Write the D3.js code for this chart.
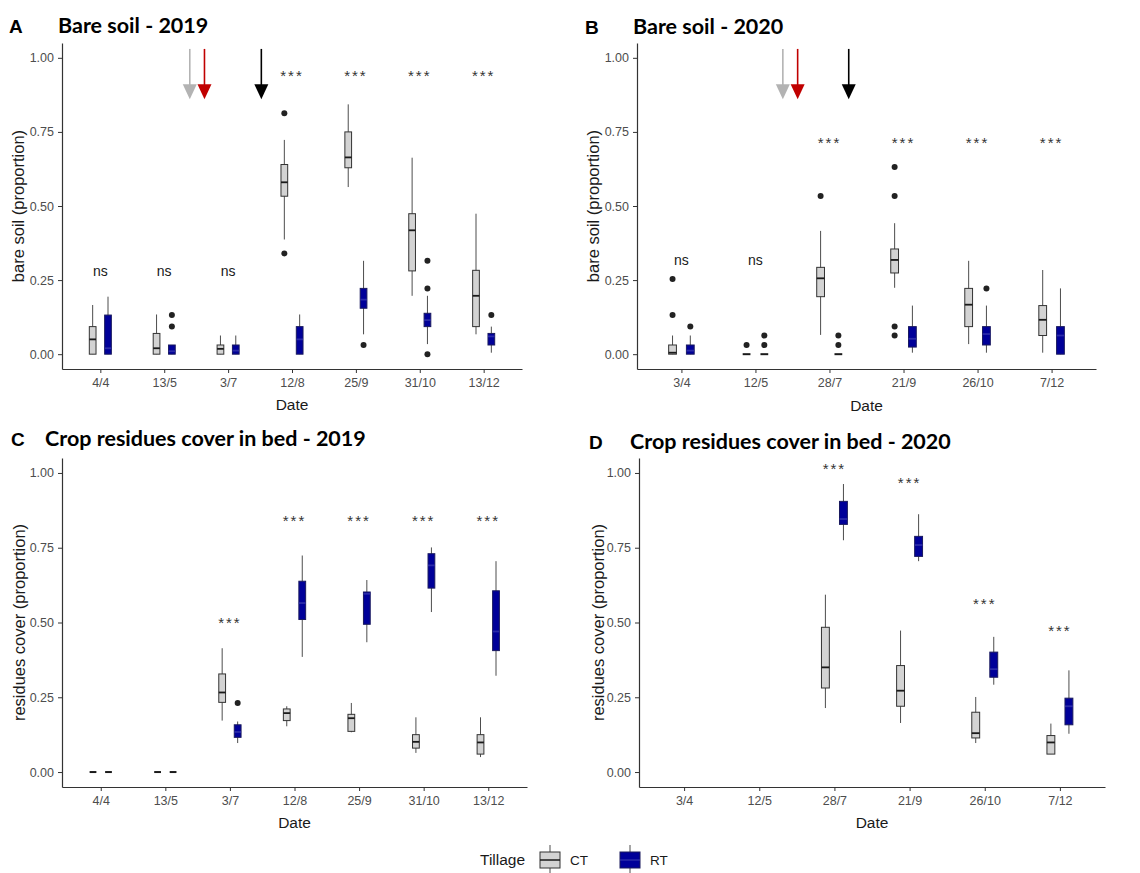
<!DOCTYPE html>
<html>
<head>
<meta charset="utf-8">
<script src="https://cdn.jsdelivr.net/npm/d3@7"></script>
<style>
  body { margin: 0; background: #fff; }
  text { font-family: "Liberation Sans", Arial, sans-serif; }
</style>
</head>
<body>
<svg id="fig" width="1140" height="873"></svg>
<script>
const tillage = ['CT', 'RT'];

const dates2019 = ['4/4', '13/5', '3/7', '12/8', '25/9', '31/10', '13/12'];
const dates2020 = ['3/4', '12/5', '28/7', '21/9', '26/10', '7/12'];

// box stats: [lower whisker, q1, median, q3, upper whisker]; null = no data
const bareCT2019 = [
  [0, 0, 0.05, 0.093, 0.166],
  [0, 0, 0.02, 0.07, 0.134],
  [0, 0, 0.018, 0.031, 0.063],
  [0.387, 0.533, 0.58, 0.64, 0.723],
  [0.564, 0.629, 0.664, 0.75, 0.843],
  [0.197, 0.281, 0.418, 0.474, 0.663],
  [0.067, 0.093, 0.197, 0.283, 0.474]
];
const bareRT2019 = [
  [0, 0, 0.02, 0.132, 0.194],
  [0, 0, 0.01, 0.031, 0.031],
  [0, 0, 0.012, 0.031, 0.063],
  [0, 0, 0.05, 0.093, 0.134],
  [0.067, 0.155, 0.184, 0.222, 0.315],
  [0.034, 0.093, 0.115, 0.138, 0.197],
  [0.005, 0.031, 0.06, 0.07, 0.093]
];
const bareCTOut2019 = [[], [], [], [0.813, 0.34], [], [], []];
const bareRTOut2019 = [[], [0.132, 0.093], [], [], [0.031], [0.315, 0.222, 0], [0.132]];

const bareCT2020 = [
  [0, 0, 0.005, 0.031, 0.063],
  [0, 0, 0, 0, 0],
  [0.065, 0.194, 0.256, 0.293, 0.416],
  [0.224, 0.274, 0.318, 0.355, 0.442],
  [0.034, 0.093, 0.167, 0.222, 0.315],
  [0.005, 0.063, 0.116, 0.164, 0.284]
];
const bareRT2020 = [
  [0, 0, 0.012, 0.031, 0.063],
  [0, 0, 0, 0, 0],
  [0, 0, 0, 0, 0],
  [0.005, 0.024, 0.052, 0.093, 0.164],
  [0.005, 0.031, 0.068, 0.093, 0.164],
  [0, 0, 0.063, 0.093, 0.222]
];
const bareCTOut2020 = [[0.254, 0.132], [0.031], [0.534], [0.632, 0.534, 0.093, 0.063], [], []];
const bareRTOut2020 = [[0.093], [0.063, 0.031], [0.063, 0.031], [], [0.222], []];

const resCT2019 = [
  [0, 0, 0, 0, 0],
  [0, 0, 0, 0, 0],
  [0.172, 0.233, 0.266, 0.328, 0.414],
  [0.153, 0.172, 0.197, 0.211, 0.22],
  [0.133, 0.136, 0.18, 0.193, 0.231],
  [0.064, 0.08, 0.101, 0.125, 0.183],
  [0.05, 0.06, 0.099, 0.125, 0.183]
];
const resRT2019 = [
  [0, 0, 0, 0, 0],
  [0, 0, 0, 0, 0],
  [0.097, 0.116, 0.134, 0.158, 0.169],
  [0.385, 0.51, 0.565, 0.638, 0.724],
  [0.434, 0.494, 0.596, 0.602, 0.642],
  [0.535, 0.615, 0.691, 0.73, 0.751],
  [0.322, 0.406, 0.47, 0.606, 0.705]
];
const resCTOut2019 = [[], [], [], [], [], [], []];
const resRTOut2019 = [[], [], [0.231], [], [], [], []];

const resCT2020 = [
  null, null,
  [0.214, 0.281, 0.35, 0.484, 0.593],
  [0.164, 0.22, 0.272, 0.356, 0.473],
  [0.097, 0.114, 0.13, 0.2, 0.251],
  [0.06, 0.06, 0.099, 0.122, 0.162]
];
const resRT2020 = [
  null, null,
  [0.775, 0.828, 0.846, 0.905, 0.963],
  [0.705, 0.721, 0.759, 0.788, 0.862],
  [0.292, 0.317, 0.344, 0.401, 0.452],
  [0.128, 0.158, 0.22, 0.247, 0.34]
];
const resCTOut2020 = [[], [], [], [], [], []];
const resRTOut2020 = [[], [], [], [], [], []];

// significance labels and their heights
const sigBare2019 = ['ns', 'ns', 'ns', '***', '***', '***', '***'];
const sigYBare2019 = [0.275, 0.275, 0.275, 0.934, 0.934, 0.934, 0.934];
const sigBare2020 = ['ns', 'ns', '***', '***', '***', '***'];
const sigYBare2020 = [0.312, 0.312, 0.708, 0.708, 0.708, 0.708];
const sigRes2019 = ['', '', '***', '***', '***', '***', '***'];
const sigYRes2019 = [0, 0, 0.496, 0.835, 0.835, 0.835, 0.835];
const sigRes2020 = ['', '', '***', '***', '***', '***'];
const sigYRes2020 = [0, 0, 1.011, 0.964, 0.56, 0.467];

// event arrows, position in category units (1 = first date)
const arrows2019 = [2.40, 2.63, 3.52];
const arrows2020 = [2.37, 2.57, 3.26];

const svg = d3.select('svg#fig');
const fills = {CT: '#d3d3d3', RT: '#000099'};
const strokes = {CT: '#333333', RT: '#1a1a5e'};
const medians = {CT: '#1a1a1a', RT: '#2b2ba8'};
const arrowCols = ['#b3b3b3', '#c00000', '#000000'];

const panels = [
  {letter: 'A', title: 'Bare soil - 2019', ytitle: 'bare soil (proportion)',
    dates: dates2019, ct: bareCT2019, rt: bareRT2019, ctOut: bareCTOut2019, rtOut: bareRTOut2019,
    sig: sigBare2019, sigY: sigYBare2019, arrows: arrows2019,
    left: 62, right: 522, top: 43, bottom: 369, letterX: 9, titleX: 58, titleY: 33, ytitleX: 20, xtitleY: 410},
  {letter: 'B', title: 'Bare soil - 2020', ytitle: 'bare soil (proportion)',
    dates: dates2020, ct: bareCT2020, rt: bareRT2020, ctOut: bareCTOut2020, rtOut: bareRTOut2020,
    sig: sigBare2020, sigY: sigYBare2020, arrows: arrows2020,
    left: 637, right: 1096, top: 43, bottom: 369, letterX: 585, titleX: 633, titleY: 34, ytitleX: 595, xtitleY: 411},
  {letter: 'C', title: 'Crop residues cover in bed - 2019', ytitle: 'residues cover (proportion)',
    dates: dates2019, ct: resCT2019, rt: resRT2019, ctOut: resCTOut2019, rtOut: resRTOut2019,
    sig: sigRes2019, sigY: sigYRes2019, arrows: [],
    left: 62, right: 527, top: 458, bottom: 787, letterX: 11, titleX: 45, titleY: 446, ytitleX: 21, xtitleY: 828},
  {letter: 'D', title: 'Crop residues cover in bed - 2020', ytitle: 'residues cover (proportion)',
    dates: dates2020, ct: resCT2020, rt: resRT2020, ctOut: resCTOut2020, rtOut: resRTOut2020,
    sig: sigRes2020, sigY: sigYRes2020, arrows: [],
    left: 639, right: 1105, top: 458, bottom: 787, letterX: 589, titleX: 630, titleY: 449, ytitleX: 600, xtitleY: 828}
];

function drawPanel(p) {
  const g = svg.append('g');
  const x = d3.scalePoint().domain(p.dates).range([p.left, p.right]).padding(0.6),
    y = d3.scaleLinear().domain([-0.05, 1.05]).range([p.bottom, p.top]),
    step = x.step(),
    xAt = pos => x(p.dates[0]) + (pos - 1) * step;

  // axes
  const xa = g.append('g')
    .attr('transform', `translate(0,${p.bottom})`)
    .call(d3.axisBottom(x).tickSize(4).tickSizeOuter(0).tickPadding(5));
  const ya = g.append('g')
    .attr('transform', `translate(${p.left},0)`)
    .call(d3.axisLeft(y).tickValues([0, 0.25, 0.5, 0.75, 1]).tickFormat(d3.format('.2f'))
      .tickSize(4).tickSizeOuter(0).tickPadding(4));
  [xa, ya].forEach(a => {
    a.select('.domain').attr('stroke', '#333').attr('stroke-width', 1.2);
    a.selectAll('.tick line').attr('stroke', '#333');
    a.selectAll('.tick text').attr('fill', '#4d4d4d')
      .style('font-size', '12.5px').style('font-family', '"Liberation Sans", Arial, sans-serif');
  });

  // boxes
  const bw = step * 0.105;
  tillage.forEach(t => {
    const stats = t === 'CT' ? p.ct : p.rt,
      outs = t === 'CT' ? p.ctOut : p.rtOut,
      off = (t === 'CT' ? -0.12 : 0.12) * step;
    stats.forEach((s, i) => {
      if (!s) return;
      const cx = x(p.dates[i]) + off,
        bg = g.append('g');
      bg.append('line').attr('x1', cx).attr('x2', cx)
        .attr('y1', y(s[0])).attr('y2', y(s[4]))
        .attr('stroke', '#4d4d4d').attr('stroke-width', 1);
      bg.append('rect')
        .attr('x', cx - bw / 2).attr('width', bw)
        .attr('y', y(s[3])).attr('height', Math.max(0, y(s[1]) - y(s[3])))
        .attr('fill', fills[t]).attr('stroke', strokes[t]).attr('stroke-width', 1);
      const flat = s[3] === s[1];
      bg.append('line')
        .attr('x1', cx - bw / 2).attr('x2', cx + bw / 2)
        .attr('y1', y(s[2])).attr('y2', y(s[2]))
        .attr('stroke', flat ? '#1a1a1a' : medians[t]).attr('stroke-width', flat ? 2 : 1.8);
      outs[i].forEach(v => {
        bg.append('circle').attr('cx', cx).attr('cy', y(v)).attr('r', 3).attr('fill', '#222');
      });
    });
  });

  // significance labels
  p.sig.forEach((s, i) => {
    if (!s) return;
    g.append('text')
      .attr('x', x(p.dates[i])).attr('y', y(p.sigY[i]))
      .attr('text-anchor', 'middle').attr('dominant-baseline', 'middle')
      .attr('fill', s === 'ns' ? '#1a1a1a' : '#333')
      .style('font-size', s === 'ns' ? '14px' : '15px')
      .style('letter-spacing', s === 'ns' ? '0px' : '2px')
      .text(s);
  });

  // event arrows
  p.arrows.forEach((a, i) => {
    const ax = xAt(a), y0 = y(1.03), y1 = y(0.86);
    g.append('line').attr('x1', ax).attr('x2', ax).attr('y1', y0).attr('y2', y1 - 10)
      .attr('stroke', arrowCols[i]).attr('stroke-width', 1.6);
    g.append('path')
      .attr('d', `M${ax - 7},${y1 - 15}L${ax + 7},${y1 - 15}L${ax},${y1}Z`)
      .attr('fill', arrowCols[i]);
  });

  // titles
  g.append('text').attr('x', p.letterX).attr('y', p.titleY)
    .style('font-size', '19px').style('font-weight', 'bold').attr('fill', '#000').text(p.letter);
  g.append('text').attr('x', p.titleX).attr('y', p.titleY)
    .style('font-family', 'Lato, "Open Sans", sans-serif')
    .style('font-size', '21.5px').style('font-weight', 'bold').attr('fill', '#000').text(p.title);
  g.append('text')
    .attr('transform', `translate(${p.ytitleX},${(p.top + p.bottom) / 2}) rotate(-90)`)
    .attr('text-anchor', 'middle').attr('dominant-baseline', 'middle')
    .style('font-size', '16.5px').attr('fill', '#1a1a1a').text(p.ytitle);
  g.append('text').attr('x', (p.left + p.right) / 2).attr('y', p.xtitleY)
    .attr('text-anchor', 'middle')
    .style('font-size', '15.5px').attr('fill', '#1a1a1a').text('Date');
}

panels.forEach(drawPanel);

// legend
const lg = svg.append('g');
lg.append('text').attr('x', 480).attr('y', 865)
  .style('font-size', '15.5px').attr('fill', '#1a1a1a').text('Tillage');
const keyX = {CT: 540, RT: 620};
tillage.forEach(t => {
  const kx = keyX[t];
  lg.append('line').attr('x1', kx + 10).attr('x2', kx + 10).attr('y1', 845).attr('y2', 875)
    .attr('stroke', '#4d4d4d');
  lg.append('rect').attr('x', kx).attr('y', 852).attr('width', 20).attr('height', 16)
    .attr('fill', fills[t]).attr('stroke', strokes[t]);
  lg.append('line').attr('x1', kx).attr('x2', kx + 20).attr('y1', 860).attr('y2', 860)
    .attr('stroke', medians[t]).attr('stroke-width', 1.5);
  lg.append('text').attr('x', kx + 30).attr('y', 865)
    .style('font-size', '13.5px').attr('fill', '#1a1a1a').text(t);
});
</script>
</body>
</html>
